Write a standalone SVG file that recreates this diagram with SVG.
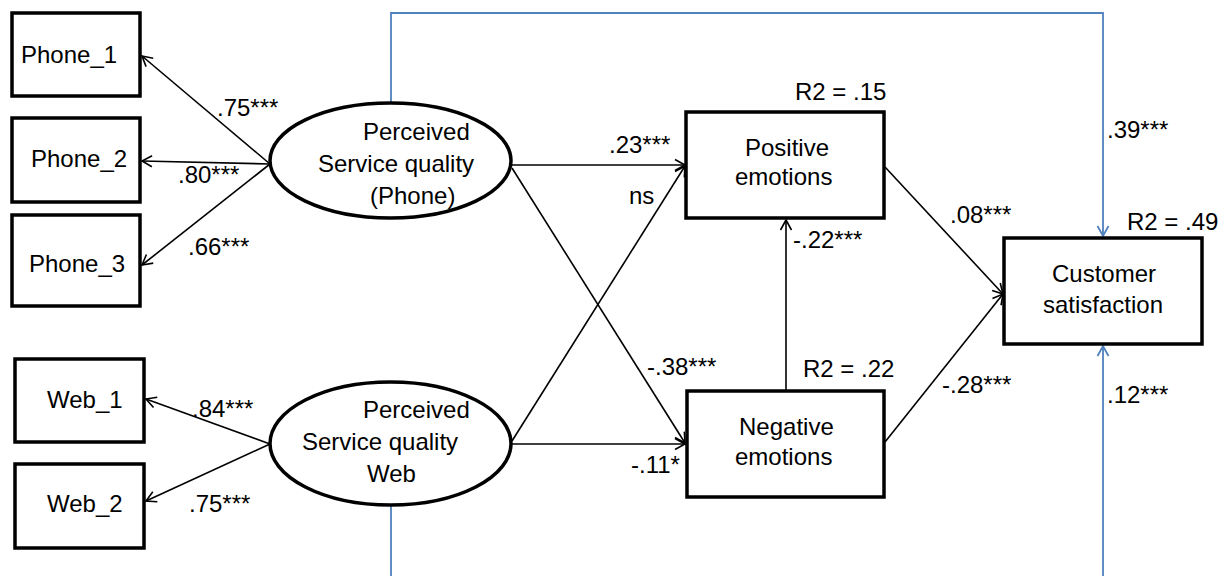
<svg xmlns="http://www.w3.org/2000/svg" width="1230" height="576" viewBox="0 0 1230 576">
<style>
.box{fill:#fff;stroke:#000;stroke-width:3.5}
.ell{fill:#fff;stroke:#000;stroke-width:3.5}
.t{font-family:"Liberation Sans",Arial,sans-serif;font-size:24px;fill:#000}
.c{fill:none;stroke:#000;stroke-width:1.6}
.b{fill:none;stroke:#4F81BD;stroke-width:1.8}
</style>
<defs>
<marker id="ak" markerUnits="userSpaceOnUse" markerWidth="14" markerHeight="14" refX="11" refY="7" orient="auto">
<path d="M1,1.5 L11,7 L1,12.5" fill="none" stroke="#000" stroke-width="1.6"/>
</marker>
<marker id="ab" markerUnits="userSpaceOnUse" markerWidth="14" markerHeight="14" refX="11" refY="7" orient="auto">
<path d="M1,1.5 L11,7 L1,12.5" fill="none" stroke="#4F81BD" stroke-width="1.8"/>
</marker>
</defs>
<rect width="1230" height="576" fill="#fff"/>
<g id="connectors">
<path class="b" d="M391,103 L391,13 L1103,13 L1103,236" marker-end="url(#ab)"/>
<path class="b" d="M391,505 L391,576"/>
<path class="b" d="M1103,576 L1103,346" marker-end="url(#ab)"/>
<line class="c" x1="270" y1="164" x2="142" y2="56" marker-end="url(#ak)"/>
<line class="c" x1="270" y1="164" x2="142" y2="161" marker-end="url(#ak)"/>
<line class="c" x1="270" y1="164" x2="142" y2="265" marker-end="url(#ak)"/>
<line class="c" x1="270" y1="444" x2="146" y2="399" marker-end="url(#ak)"/>
<line class="c" x1="270" y1="444" x2="146" y2="501" marker-end="url(#ak)"/>
<line class="c" x1="511" y1="165" x2="685" y2="165" marker-end="url(#ak)"/>
<line class="c" x1="512" y1="168" x2="685" y2="443" marker-end="url(#ak)"/>
<line class="c" x1="511" y1="444" x2="685" y2="444" marker-end="url(#ak)"/>
<line class="c" x1="512" y1="441" x2="685" y2="166" marker-end="url(#ak)"/>
<line class="c" x1="786" y1="391" x2="786" y2="220" marker-end="url(#ak)"/>
<line class="c" x1="885" y1="167" x2="1003" y2="294" marker-end="url(#ak)"/>
<line class="c" x1="885" y1="442" x2="1003" y2="294" marker-end="url(#ak)"/>
</g>
<g id="phone1"><rect class="box" x="12" y="13" width="128" height="83"/><text class="t" x="21" y="63">Phone_1</text></g>
<g id="phone2"><rect class="box" x="12" y="118" width="128" height="84"/><text class="t" x="31" y="167">Phone_2</text></g>
<g id="phone3"><rect class="box" x="12" y="215" width="128" height="91"/><text class="t" x="29" y="272">Phone_3</text></g>
<g id="web1"><rect class="box" x="15" y="359" width="129" height="83"/><text class="t" x="47" y="408">Web_1</text></g>
<g id="web2"><rect class="box" x="15" y="464" width="129" height="84"/><text class="t" x="47" y="512">Web_2</text></g>
<g id="psq-phone"><ellipse class="ell" cx="390.5" cy="160.5" rx="120.5" ry="57.5"/>
<text class="t" x="363" y="140">Perceived</text>
<text class="t" x="318" y="172">Service quality</text>
<text class="t" x="370" y="204">(Phone)</text></g>
<g id="psq-web"><ellipse class="ell" cx="390.5" cy="443.5" rx="120.5" ry="61.5"/>
<text class="t" x="363" y="418">Perceived</text>
<text class="t" x="302" y="450">Service quality</text>
<text class="t" x="367" y="482">Web</text></g>
<g id="positive"><rect class="box" x="686" y="112" width="198" height="106"/>
<text class="t" x="745" y="156">Positive</text><text class="t" x="735" y="185">emotions</text>
<text class="t" x="795" y="100">R2 = .15</text></g>
<g id="negative"><rect class="box" x="687" y="391" width="197" height="106"/>
<text class="t" x="739" y="435">Negative</text><text class="t" x="735" y="465">emotions</text>
<text class="t" x="803" y="377">R2 = .22</text></g>
<g id="customer"><rect class="box" x="1004" y="238" width="198" height="106"/>
<text class="t" x="1052" y="282">Customer</text><text class="t" x="1043" y="313">satisfaction</text>
<text class="t" x="1127" y="230">R2 = .49</text></g>
<g id="labels">
<text class="t" x="217" y="116">.75***</text>
<text class="t" x="178" y="183">.80***</text>
<text class="t" x="188" y="255">.66***</text>
<text class="t" x="192" y="417">.84***</text>
<text class="t" x="189" y="512">.75***</text>
<text class="t" x="609" y="153">.23***</text>
<text class="t" x="629" y="204">ns</text>
<text class="t" x="793" y="248">-.22***</text>
<text class="t" x="647" y="375">-.38***</text>
<text class="t" x="631" y="473">-.11*</text>
<text class="t" x="1107" y="138">.39***</text>
<text class="t" x="950" y="223">.08***</text>
<text class="t" x="942" y="393">-.28***</text>
<text class="t" x="1107" y="403">.12***</text>
</g>
</svg>
